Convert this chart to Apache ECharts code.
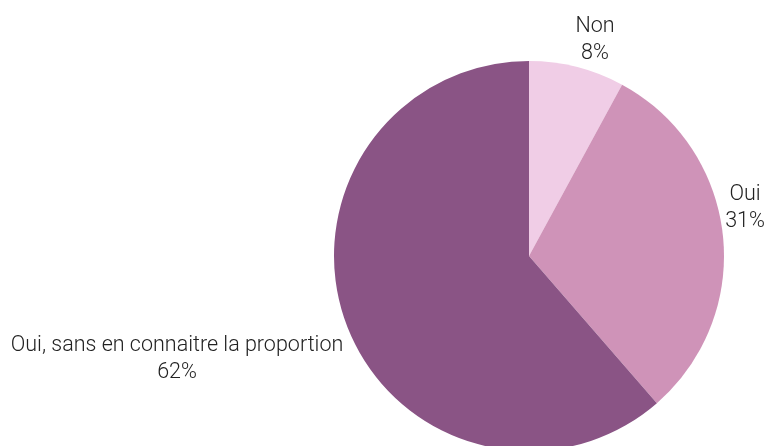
<!DOCTYPE html>
<html>
<head>
<meta charset="utf-8">
<script src="https://cdn.jsdelivr.net/npm/echarts@6/dist/echarts.min.js"></script>
<style>
  html, body { margin: 0; padding: 0; background: #fff; }
  #chart { width: 767px; height: 446px; }
</style>
</head>
<body>
<div id="chart"></div>
<script>
// Answer categories and their shares (percent)
const categories = ['Non', 'Oui', 'Oui, sans en connaitre la proportion'];
const shares = [8, 31, 62];
const sliceColors = ['#f0cde6', '#cf93b8', '#8a5485'];

// Where each label's centre sits on the canvas
const labelSpots = [[595, 40], [745, 208], [177, 359]];

const chart = echarts.init(document.getElementById('chart'), null, { renderer: 'canvas' });

chart.setOption({
  animation: false,
  series: [{
    type: 'pie',
    center: [529, 256],
    radius: 195,
    startAngle: 90,
    clockwise: true,
    avoidLabelOverlap: false,
    data: categories.map((name, i) => ({
      name: name,
      value: shares[i],
      itemStyle: { color: sliceColors[i] }
    })),
    itemStyle: { borderWidth: 0 },
    label: {
      show: true,
      position: 'outside',
      formatter: p => p.name + '\n' + p.value + '%',
      color: '#222222',
      fontFamily: 'Roboto',
      fontWeight: 300,
      fontSize: 21.5,
      lineHeight: 27,
      align: 'center',
      overflow: 'none'
    },
    labelLine: { show: false },
    labelLayout: p => ({
      x: labelSpots[p.dataIndex][0],
      y: labelSpots[p.dataIndex][1],
      align: 'center',
      verticalAlign: 'middle',
      hideOverlap: false,
      moveOverlap: null
    }),
    emphasis: { disabled: true }
  }]
});
</script>
</body>
</html>
